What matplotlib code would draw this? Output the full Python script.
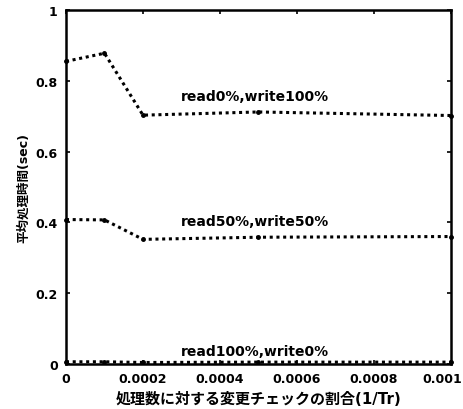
import matplotlib
matplotlib.use('Agg')
import matplotlib.pyplot as plt
import matplotlib.transforms as mtransforms

plt.rcParams['font.family'] = ['DejaVu Sans', 'Noto Sans CJK JP']

# 変更チェックの割合 (1/Tr)
ratio = [0, 0.0001, 0.0002, 0.0005, 0.001]
# 平均処理時間 (sec)
read0_write100 = [0.855, 0.878, 0.703, 0.712, 0.702]
read50_write50 = [0.408, 0.407, 0.352, 0.358, 0.360]
read100_write0 = [0.006, 0.006, 0.004, 0.005, 0.005]

labels = ['read0%,write100%', 'read50%,write50%', 'read100%,write0%']
xticks = [0, 0.0002, 0.0004, 0.0006, 0.0008, 0.001]
xticklabels = ['0', '0.0002', '0.0004', '0.0006', '0.0008', '0.001']
yticks = [0, 0.2, 0.4, 0.6, 0.8, 1]
yticklabels = ['0', '0.2', '0.4', '0.6', '0.8', '1']

fig = plt.figure(figsize=(4.63, 4.10), dpi=100)
ax = fig.add_axes([0.1425, 0.11, 0.8315, 0.863])

for ys in [read0_write100, read50_write50, read100_write0]:
    ax.plot(ratio, ys, color='black', linestyle=(0, (1, 1.2)), linewidth=2.2,
            marker='.', markersize=5, clip_on=False)

# 系列ラベル
ax.text(0.00049, 0.757, labels[0], ha='center', va='center', fontsize=10, fontweight='bold')
ax.text(0.00049, 0.405, labels[1], ha='center', va='center', fontsize=10, fontweight='bold')
ax.text(0.00049, 0.037, labels[2], ha='center', va='center', fontsize=10, fontweight='bold')

ax.set_xlim(0, 0.001)
ax.set_ylim(0, 1)
ax.set_xticks(xticks)
ax.set_xticklabels(xticklabels, fontweight='bold', fontsize=9)
ax.set_yticks(yticks)
ax.set_yticklabels(yticklabels, fontweight='bold', fontsize=9)
ax.tick_params(direction='in', top=True, right=True, length=3, width=1.2, pad=6)

# 右端のラベルは枠内に収める
last = ax.get_xticklabels()[-1]
last.set_transform(last.get_transform() + mtransforms.ScaledTranslation(-9 / 100, 0, fig.dpi_scale_trans))

for s in ax.spines.values():
    s.set_linewidth(1.8)

ax.set_xlabel('処理数に対する変更チェックの割合(1/Tr)', fontsize=10.8, fontweight='bold', labelpad=4)
ax.set_ylabel('平均処理時間(sec)', fontsize=9, fontweight='bold', labelpad=4)

fig.savefig('out.png', dpi=100)
